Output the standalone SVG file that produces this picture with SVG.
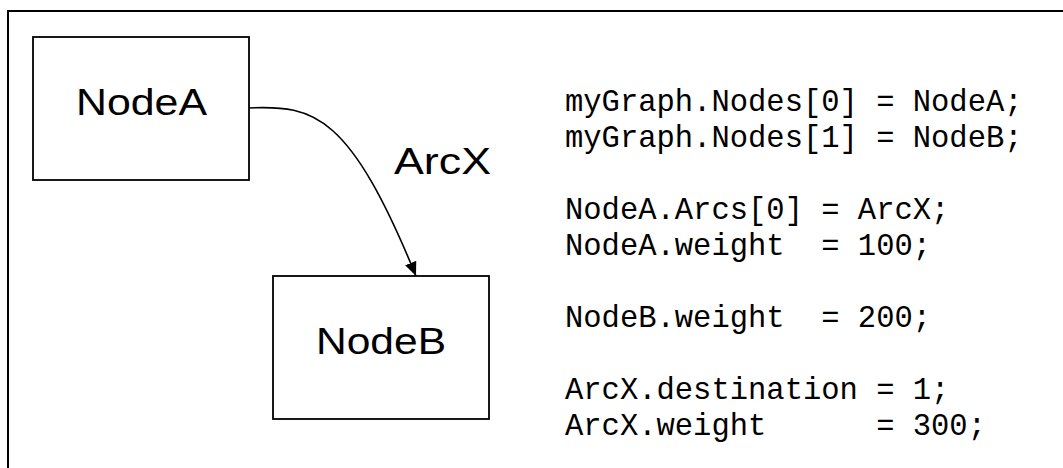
<svg xmlns="http://www.w3.org/2000/svg" width="1063" height="468" viewBox="0 0 1063 468">
<style>
.frame{fill:none;stroke:#000;stroke-width:2}
.box{fill:#fff;stroke:#000;stroke-width:1.8}
.lbl{font-family:"Liberation Sans",Arial,sans-serif;font-size:37px;fill:#000}
.code{font-family:"Liberation Mono","Courier New",monospace;font-size:30.5px;fill:#000;white-space:pre}
.edge{fill:none;stroke:#000;stroke-width:1.6}
</style>
<defs>
<marker id="arrow" markerWidth="14" markerHeight="12" refX="14" refY="6" orient="auto" markerUnits="userSpaceOnUse">
<path d="M0,0 L14,6 L0,12 Z" fill="#000"/>
</marker>
</defs>
<rect width="1063" height="468" fill="#fff"/>
<path class="frame" d="M8,468 V11 H1063"/>
<g id="connectors">
<path class="edge" d="M249,108 C315,105 350,115 416,276" marker-end="url(#arrow)"/>
<text class="lbl" x="394" y="174" textLength="97" lengthAdjust="spacingAndGlyphs">ArcX</text>
</g>
<g id="nodeA">
<rect class="box" x="33" y="37" width="216" height="143"/>
<text class="lbl" x="76" y="115" textLength="131" lengthAdjust="spacingAndGlyphs">NodeA</text>
</g>
<g id="nodeB">
<rect class="box" x="273" y="276" width="216" height="143"/>
<text class="lbl" x="316" y="354" textLength="130" lengthAdjust="spacingAndGlyphs">NodeB</text>
</g>
<g id="code">
<text class="code" x="565" y="111">myGraph.Nodes[0] = NodeA;</text>
<text class="code" x="565" y="147">myGraph.Nodes[1] = NodeB;</text>
<text class="code" x="565" y="219">NodeA.Arcs[0] = ArcX;</text>
<text class="code" x="565" y="255">NodeA.weight  = 100;</text>
<text class="code" x="565" y="327">NodeB.weight  = 200;</text>
<text class="code" x="565" y="399">ArcX.destination = 1;</text>
<text class="code" x="565" y="435">ArcX.weight      = 300;</text>
</g>
</svg>
